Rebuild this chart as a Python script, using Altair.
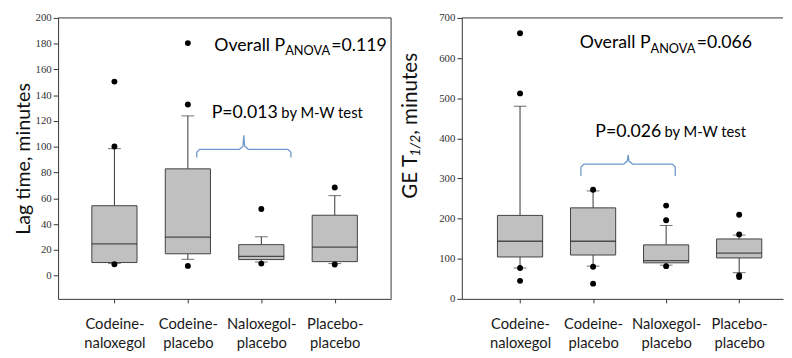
import altair as alt
import pandas as pd

# ---------------- data ----------------
cats = ["Codeine-naloxegol", "Codeine-placebo", "Naloxegol-placebo", "Placebo-placebo"]

# Left panel: Lag time, minutes
lag_q1 = [10.2, 17.0, 12.5, 10.9]
lag_med = [24.6, 30.0, 15.0, 22.1]
lag_q3 = [54.3, 82.9, 24.1, 46.9]
lag_wlo = [9.6, 12.7, 10.6, 9.4]
lag_whi = [98.6, 124.0, 30.2, 62.1]
lag_out = [[150.6, 100.2, 8.9], [180.5, 132.8, 7.6], [51.7, 9.4], [68.4, 8.7]]

# Right panel: GE T1/2, minutes
ge_q1 = [104.4, 109.3, 89.8, 102.0]
ge_med = [143.6, 143.6, 95.4, 114.2]
ge_q3 = [208.0, 226.8, 134.6, 149.3]
ge_wlo = [76.7, 81.6, 84.0, 65.3]
ge_whi = [480.0, 269.0, 182.8, 159.0]
ge_out = [[662.0, 512.0, 77.0, 45.0], [272.0, 80.0, 38.0], [232.5, 195.8, 81.5], [209.7, 160.7, 58.7, 54.6]]

lag_ticks = list(range(0, 201, 20))
ge_ticks = list(range(0, 701, 100))

# ---------------- styling ----------------
LINE = "#333333"
BOX_FILL = "#c0c0c0"
BRACE = "#6f9acb"
TXT_FONT = "Lato"
NUM_FONT = "Liberation Sans Narrow"
H = 286


def label_expr(names):
    parts = []
    for c in names:
        a, b = c.split("-", 1)
        parts.append("['%s-','%s']" % (a, b))
    return "[" + ",".join(parts) + "][datum.value]"


def one(**kw):
    return pd.DataFrame({k: [v] for k, v in kw.items()})


def panel(q1, med, q3, wlo, whi, outs, ydom, yticks, xdom, width, ytitle,
          frame_right, annot_specs):
    box = pd.DataFrame({"i": list(range(len(cats))), "q1": q1, "med": med,
                        "q3": q3, "wlo": wlo, "whi": whi})
    out = pd.DataFrame([(i, v) for i, vs in enumerate(outs) for v in vs],
                       columns=["i", "v"])
    xaxis = alt.Axis(values=list(range(len(cats))), labelExpr=label_expr(cats),
                     grid=False, tickSize=4, tickColor=LINE, domainColor=LINE,
                     labelFont=TXT_FONT, labelFontSize=15, labelColor="#1a1a1a",
                     labelPadding=14, labelLineHeight=20, labelAngle=0,
                     labelOverlap=False, labelFlush=False, title=None)
    yaxis_kw = dict(values=yticks, grid=False, tickSize=5, tickColor=LINE,
                    domainColor=LINE, labelFont=NUM_FONT, labelFontSize=11,
                    labelColor="#333333", labelPadding=2, labelOverlap=False,
                    labelFlush=False)
    if ytitle:
        yaxis = alt.Axis(title=ytitle, titleFont=TXT_FONT, titleFontSize=20,
                         titleFontWeight="normal", titleColor="#111111",
                         titlePadding=2, **yaxis_kw)
    else:
        yaxis = alt.Axis(title=None, **yaxis_kw)
    xs = alt.Scale(domain=xdom, nice=False, zero=False)
    ys = alt.Scale(domain=ydom, nice=False, zero=False)

    def X(f):
        return alt.X(f, scale=xs, axis=xaxis)

    def Y(f):
        return alt.Y(f, scale=ys, axis=yaxis)

    base = alt.Chart(box)
    upper = base.mark_rule(color=LINE, strokeWidth=1).encode(x=X("i:Q"), y=Y("q3:Q"), y2="whi:Q")
    lower = base.mark_rule(color=LINE, strokeWidth=1).encode(x=X("i:Q"), y=Y("wlo:Q"), y2="q1:Q")
    cap_hi = base.mark_tick(orient="horizontal", size=13, thickness=1, color=LINE).encode(x=X("i:Q"), y=Y("whi:Q"))
    cap_lo = base.mark_tick(orient="horizontal", size=13, thickness=1, color=LINE).encode(x=X("i:Q"), y=Y("wlo:Q"))
    boxes = base.mark_bar(size=46, fill=BOX_FILL, stroke="#404040", strokeWidth=1).encode(
        x=X("i:Q"), y=Y("q1:Q"), y2="q3:Q")
    medians = base.mark_tick(orient="horizontal", size=46, thickness=1.3, color="#1a1a1a").encode(
        x=X("i:Q"), y=Y("med:Q"))
    dots = alt.Chart(out).mark_circle(size=36, color="black", opacity=1).encode(x=X("i:Q"), y=Y("v:Q"))
    frame = [alt.Chart(one(d=0)).mark_rule(color=LINE, strokeWidth=1).encode(
        x=alt.value(0), x2=alt.value(width), y=alt.value(0))]
    if frame_right:
        frame.append(alt.Chart(one(d=0)).mark_rule(color=LINE, strokeWidth=1).encode(
            x=alt.value(width), y=alt.value(0), y2=alt.value(H)))
    annots = []
    for spec in annot_specs:
        kind = spec[0]
        if kind == "text":
            _, x, y, t, size, align, dx, dy = spec
            annots.append(alt.Chart(one(x=x, y=y, t=t)).mark_text(
                font=TXT_FONT, fontSize=size, align=align, baseline="alphabetic",
                dx=dx, dy=dy, color="#000000").encode(x=X("x:Q"), y=Y("y:Q"), text="t:N"))
        elif kind == "brace":
            _, x0, x1, xm, yb, yt, yp, ddx, ddy = spec
            pts = [(x0, yb), (x0, yt - ddy), (x0 + ddx, yt), (xm - 1.5 * ddx, yt),
                   (xm - 0.3 * ddx, yt + ddy), (xm, yp), (xm + 0.3 * ddx, yt + ddy),
                   (xm + 1.5 * ddx, yt), (x1 - ddx, yt), (x1, yt - ddy), (x1, yb)]
            df = pd.DataFrame({"x": [p[0] for p in pts], "y": [p[1] for p in pts],
                               "o": list(range(len(pts)))})
            annots.append(alt.Chart(df).mark_line(color=BRACE, strokeWidth=1.3).encode(
                x=X("x:Q"), y=Y("y:Q"), order="o:Q"))
        elif kind == "vtext":
            _, xp, yp, t, size, style = spec
            annots.append(alt.Chart(one(t=t)).mark_text(
                font=TXT_FONT, fontSize=size, align="left", baseline="alphabetic",
                angle=270, fontStyle=style, color="#111111").encode(
                x=alt.value(xp), y=alt.value(yp), text="t:N"))
    layers = [upper, lower, cap_hi, cap_lo, boxes, medians, dots] + frame + annots
    return alt.layer(*layers).properties(width=width, height=H)


# ---------------- left panel ----------------
left_ann = [
    ("text", 2.325, 174.7, "Overall P", 18, "right", 0, 0),
    ("text", 2.325, 174.7, "ANOVA", 13, "left", 0, 5),
    ("text", 2.325, 174.7, "=0.119", 18, "left", 47, 0),
    ("text", 1.325, 122.2, "P=0.013", 18, "left", 0, 0),
    ("text", 2.273, 122.2, "by M-W test", 15, "left", 0, 0),
    ("brace", 1.121, 2.403, 1.762, 91.8, 98.1, 109.0, 0.04, 2.3),
]
left = panel(lag_q1, lag_med, lag_q3, lag_wlo, lag_whi, lag_out,
             [-18, 200], lag_ticks, [-0.70, 3.70], 339, "Lag time, minutes",
             True, left_ann)

# ---------------- right panel ----------------
right_ann = [
    ("text", 1.786, 624, "Overall P", 18, "right", 0, 0),
    ("text", 1.786, 624, "ANOVA", 13, "left", 0, 5),
    ("text", 1.786, 624, "=0.066", 18, "left", 47, 0),
    ("text", 1.03, 403.8, "P=0.026", 18, "left", 0, 0),
    ("text", 1.978, 403.8, "by M-W test", 15, "left", 0, 0),
    ("brace", 0.834, 2.125, 1.480, 305.9, 336.0, 359.0, 0.04, 7.3),
    ("vtext", -46, 184, "GE T", 21, "normal"),
    ("vtext", -43, 141, "1/2", 14, "italic"),
    ("vtext", -46, 119, ", minutes", 21, "normal"),
]
right = panel(ge_q1, ge_med, ge_q3, ge_wlo, ge_whi, ge_out,
              [0, 700], ge_ticks, [-0.73, 3.533], 327, None, False, right_ann)

chart = alt.hconcat(left, right, spacing=7).properties(
    padding={"left": 5, "top": 0, "right": 0, "bottom": 0}
).configure_view(stroke="transparent").configure_axis(grid=False)

chart.save("out.html", embed_options={"renderer": "svg", "actions": False})
